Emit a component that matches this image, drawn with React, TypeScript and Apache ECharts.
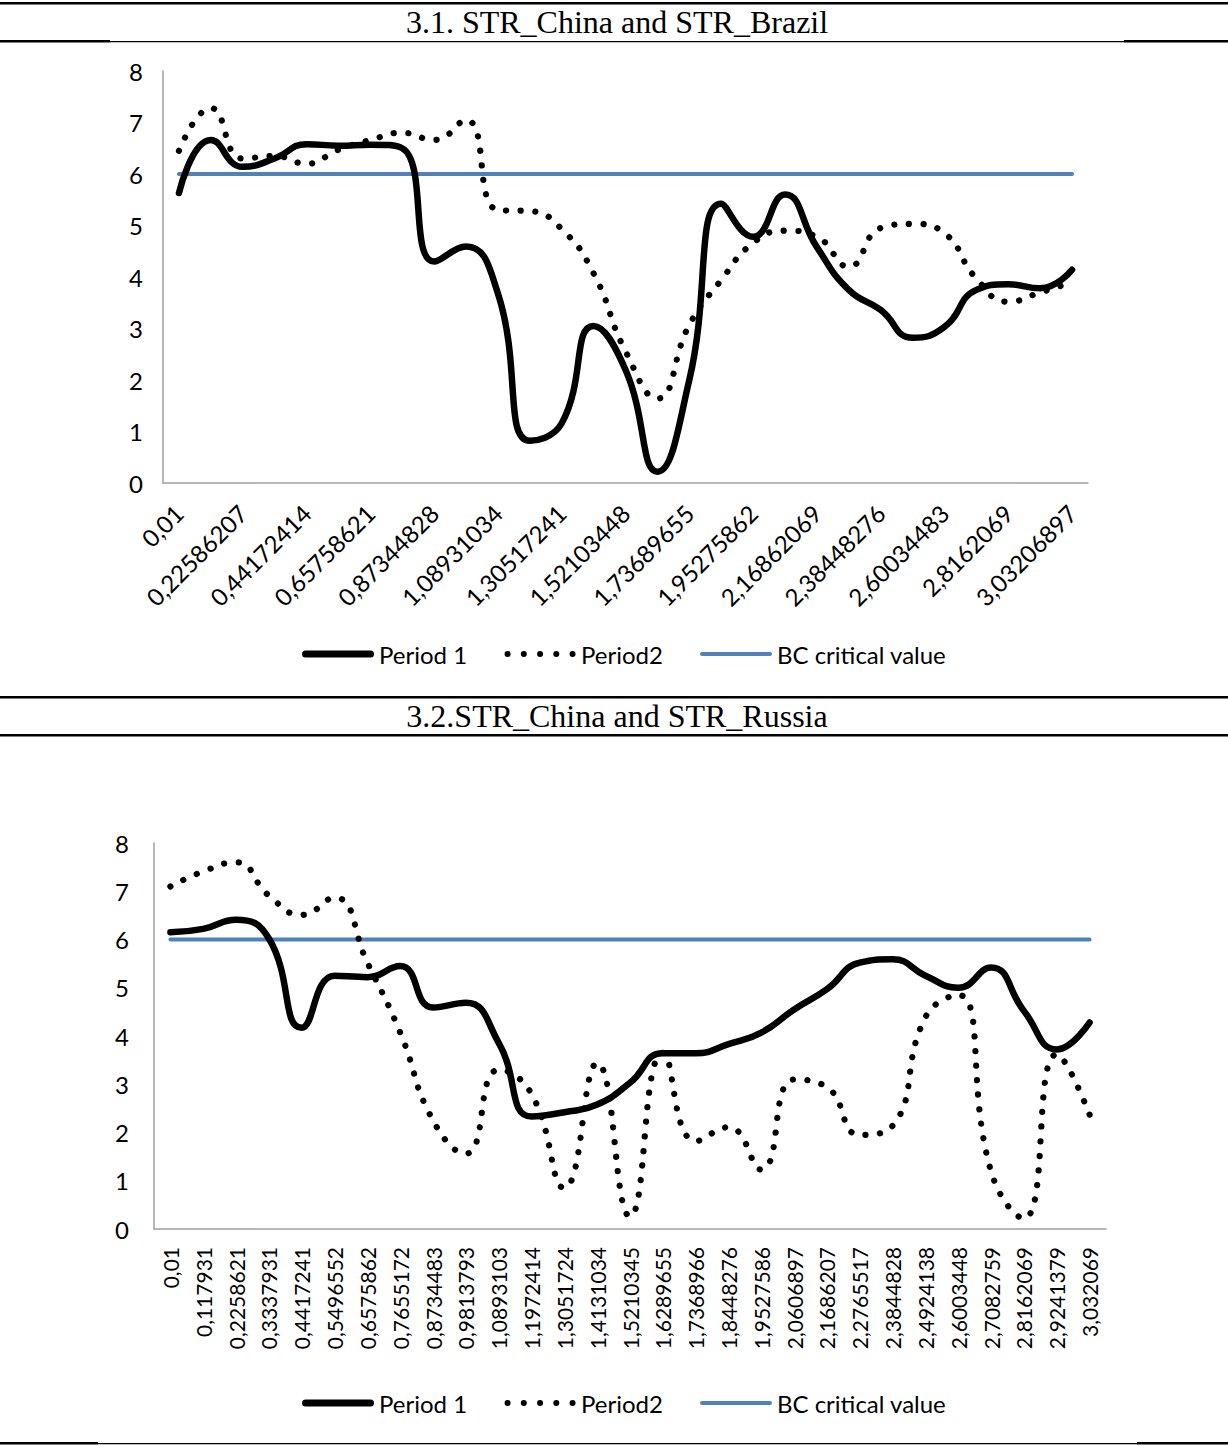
import React, { useEffect, useRef } from "react";
import * as echarts from "echarts";

const topCategories = [
  "0,01", "0,11793103", "0,22586207", "0,3337931", "0,44172414", "0,54965517",
  "0,65758621", "0,76551724", "0,87344828", "0,98137931", "1,08931034", "1,19724138",
  "1,30517241", "1,41310345", "1,52103448", "1,62896552", "1,73689655", "1,84482759",
  "1,95275862", "2,06068966", "2,16862069", "2,27655172", "2,38448276", "2,49241379",
  "2,60034483", "2,70827586", "2,8162069", "2,92413793", "3,03206897",
];

const bottomCategories = [
  "0,01", "0,117931", "0,2258621", "0,3337931", "0,4417241", "0,5496552",
  "0,6575862", "0,7655172", "0,8734483", "0,9813793", "1,0893103", "1,1972414",
  "1,3051724", "1,4131034", "1,5210345", "1,6289655", "1,7368966", "1,8448276",
  "1,9527586", "2,0606897", "2,1686207", "2,2765517", "2,3844828", "2,4924138",
  "2,6003448", "2,7082759", "2,8162069", "2,9241379", "3,032069",
];

const brazilPeriod1 = [
  5.63, 6.66, 6.14, 6.3, 6.58, 6.55, 6.57, 6.5, 4.3, 4.59, 3.68, 0.82, 1.16, 3.05, 2.2,
  0.22, 2.0, 5.42, 4.78, 5.6, 4.58, 3.75, 3.36, 2.82, 3.03, 3.75, 3.86, 3.78, 4.14,
];
const brazilPeriod2 = [
  6.45, 7.28, 6.3, 6.35, 6.2, 6.47, 6.66, 6.8, 6.66, 7.05, 5.3, 5.28, 4.93, 4.07, 2.56,
  1.64, 3.07, 3.94, 4.66, 4.9, 4.78, 4.2, 4.95, 5.03, 4.85, 3.97, 3.52, 3.7, 3.9,
];
const russiaPeriod1 = [
  6.15, 6.22, 6.41, 6.02, 4.17, 5.25, 5.22, 5.45, 4.59, 4.69, 3.86, 2.33, 2.42, 2.58, 3.03,
  3.64, 3.64, 3.83, 4.07, 4.55, 4.97, 5.52, 5.59, 5.25, 5.0, 5.42, 4.52, 3.72, 4.28,
];
const russiaPeriod2 = [
  7.1, 7.41, 7.6, 6.91, 6.51, 6.87, 5.52, 4.07, 2.25, 1.56, 3.3, 2.8, 0.85, 3.44, 0.26,
  3.65, 1.82, 2.11, 1.23, 3.1, 2.94, 1.95, 2.14, 4.39, 4.85, 1.19, 0.22, 3.62, 2.37,
];
const bcCriticalValue = 6;

const yTicks = { min: 0, max: 8, interval: 1 };
const legendNames = ["Period 1", "Period2", "BC critical value"];
const titles = ["3.1. STR_China and STR_Brazil", "3.2.STR_China and STR_Russia"];

const FONT = "Lato, 'Open Sans', sans-serif";
const AXIS_GRAY = "#a0a0a0";
const BLUE = "#4f81bd";

// legend icons (72 x 8 box)
const circle = (cx: number, r: number) =>
  `M${cx - r},4 a${r},${r} 0 1 0 ${2 * r},0 a${r},${r} 0 1 0 ${-2 * r},0 Z`;
const ICON_SOLID =
  "path://M0,0 M72,8 M3.5,0.5 H68.5 A3.5,3.5 0 0 1 68.5,7.5 H3.5 A3.5,3.5 0 0 1 3.5,0.5 Z";
const ICON_DOTS =
  "path://M0,0 M72,8 " + [3.5, 19.75, 36, 52.25, 68.5].map((c) => circle(c, 3)).join(" ");
const ICON_BC = "path://M0,0 M72,8 M2,2 H70 A2,2 0 0 1 70,6 H2 A2,2 0 0 1 2,2 Z";

function buildOption() {
  const yAxis = (gridIndex: number, margin: number) => ({
    type: "value",
    gridIndex,
    min: yTicks.min,
    max: yTicks.max,
    interval: yTicks.interval,
    axisLine: { show: true, lineStyle: { color: AXIS_GRAY, width: 1.5 } },
    axisTick: { show: false },
    splitLine: { show: false },
    axisLabel: { color: "#000", fontSize: 24, fontFamily: FONT, margin },
  });

  const lineSeries = (
    name: string,
    data: number[],
    idx: number,
    kind: "solid" | "dot" | "bc"
  ) => {
    const base: any = {
      name,
      type: "line",
      xAxisIndex: idx,
      yAxisIndex: idx,
      data,
      symbol: "none",
      showSymbol: false,
    };
    if (kind === "solid") {
      base.smooth = 0.5;
      base.lineStyle = { color: "#000", width: 6.5, cap: "round", join: "round" };
      base.itemStyle = { color: "#000" };
      base.z = 4;
    } else if (kind === "dot") {
      base.smooth = 0.5;
      base.lineStyle = { color: "#000", width: 6.2, type: [0.1, 14.5], cap: "round" };
      base.itemStyle = { color: "#000" };
      base.z = 3;
    } else {
      base.lineStyle = { color: BLUE, width: 4, cap: "round" };
      base.itemStyle = { color: BLUE };
      base.z = 2;
    }
    return base;
  };

  const bcTop = topCategories.map(() => bcCriticalValue);
  const bcBottom = bottomCategories.map(() => bcCriticalValue);

  const legend = (top: number) => ({
    data: [
      { name: legendNames[0], icon: ICON_SOLID },
      { name: legendNames[1], icon: ICON_DOTS },
      { name: legendNames[2], icon: ICON_BC },
    ],
    top,
    left: 297,
    itemWidth: 72,
    itemHeight: 8,
    itemGap: 37,
    textStyle: { color: "#000", fontSize: 24, fontFamily: FONT },
    selectedMode: false,
  });

  const rect = (x: number, y: number, w: number, h: number) => ({
    type: "rect",
    shape: { x, y, width: w, height: h },
    style: { fill: "#000" },
    silent: true,
  });

  const title = (y: number, text: string) => ({
    type: "text",
    x: 617,
    y,
    style: {
      text,
      fill: "#000",
      font: "32px 'Liberation Serif', 'Times New Roman', serif",
      textAlign: "center",
      textVerticalAlign: "middle",
    },
    silent: true,
  });

  return {
    animation: false,
    backgroundColor: "#fff",
    grid: [
      { left: 163, top: 71, width: 925, height: 412, containLabel: false },
      { left: 154, top: 843, width: 952, height: 386, containLabel: false },
    ],
    xAxis: [
      {
        type: "category",
        gridIndex: 0,
        data: topCategories,
        boundaryGap: true,
        axisLine: { show: true, lineStyle: { color: AXIS_GRAY, width: 1.5 } },
        axisTick: { show: false },
        axisLabel: {
          interval: 1,
          rotate: 45,
          color: "#000",
          fontSize: 24,
          fontFamily: FONT,
          margin: 26,
        },
      },
      {
        type: "category",
        gridIndex: 1,
        data: bottomCategories,
        boundaryGap: true,
        axisLine: { show: true, lineStyle: { color: AXIS_GRAY, width: 1.5 } },
        axisTick: { show: false },
        axisLabel: {
          interval: 0,
          rotate: 90,
          color: "#000",
          fontSize: 21,
          fontFamily: FONT,
          margin: 18,
        },
      },
    ],
    yAxis: [yAxis(0, 20), yAxis(1, 25)],
    legend: [legend(637), legend(1386)],
    series: [
      lineSeries("BC critical value", bcTop, 0, "bc"),
      lineSeries("Period2", brazilPeriod2, 0, "dot"),
      lineSeries("Period 1", brazilPeriod1, 0, "solid"),
      lineSeries("BC critical value", bcBottom, 1, "bc"),
      lineSeries("Period2", russiaPeriod2, 1, "dot"),
      lineSeries("Period 1", russiaPeriod1, 1, "solid"),
    ],
    graphic: [
      rect(0, 2, 1228, 2.5),
      title(22, titles[0]),
      rect(0, 40, 110, 2.5),
      rect(110, 41, 1014, 1.2),
      rect(1124, 40, 104, 2.5),
      rect(0, 696, 1228, 2.5),
      title(716, titles[1]),
      rect(0, 734, 1228, 2.5),
      rect(0, 1442, 98, 2.5),
      rect(98, 1443, 1039, 1.2),
      rect(1137, 1442, 91, 2.5),
    ],
  };
}

export default function App() {
  const ref = useRef<HTMLDivElement>(null);
  useEffect(() => {
    if (!ref.current) return;
    const chart = echarts.init(ref.current, null, { renderer: "svg" });
    chart.setOption(buildOption() as any);
    return () => chart.dispose();
  }, []);
  return (
    <div
      ref={ref}
      style={{
        position: "absolute",
        left: 0,
        top: 0,
        width: 1228,
        height: 1446,
        background: "#fff",
      }}
    />
  );
}
